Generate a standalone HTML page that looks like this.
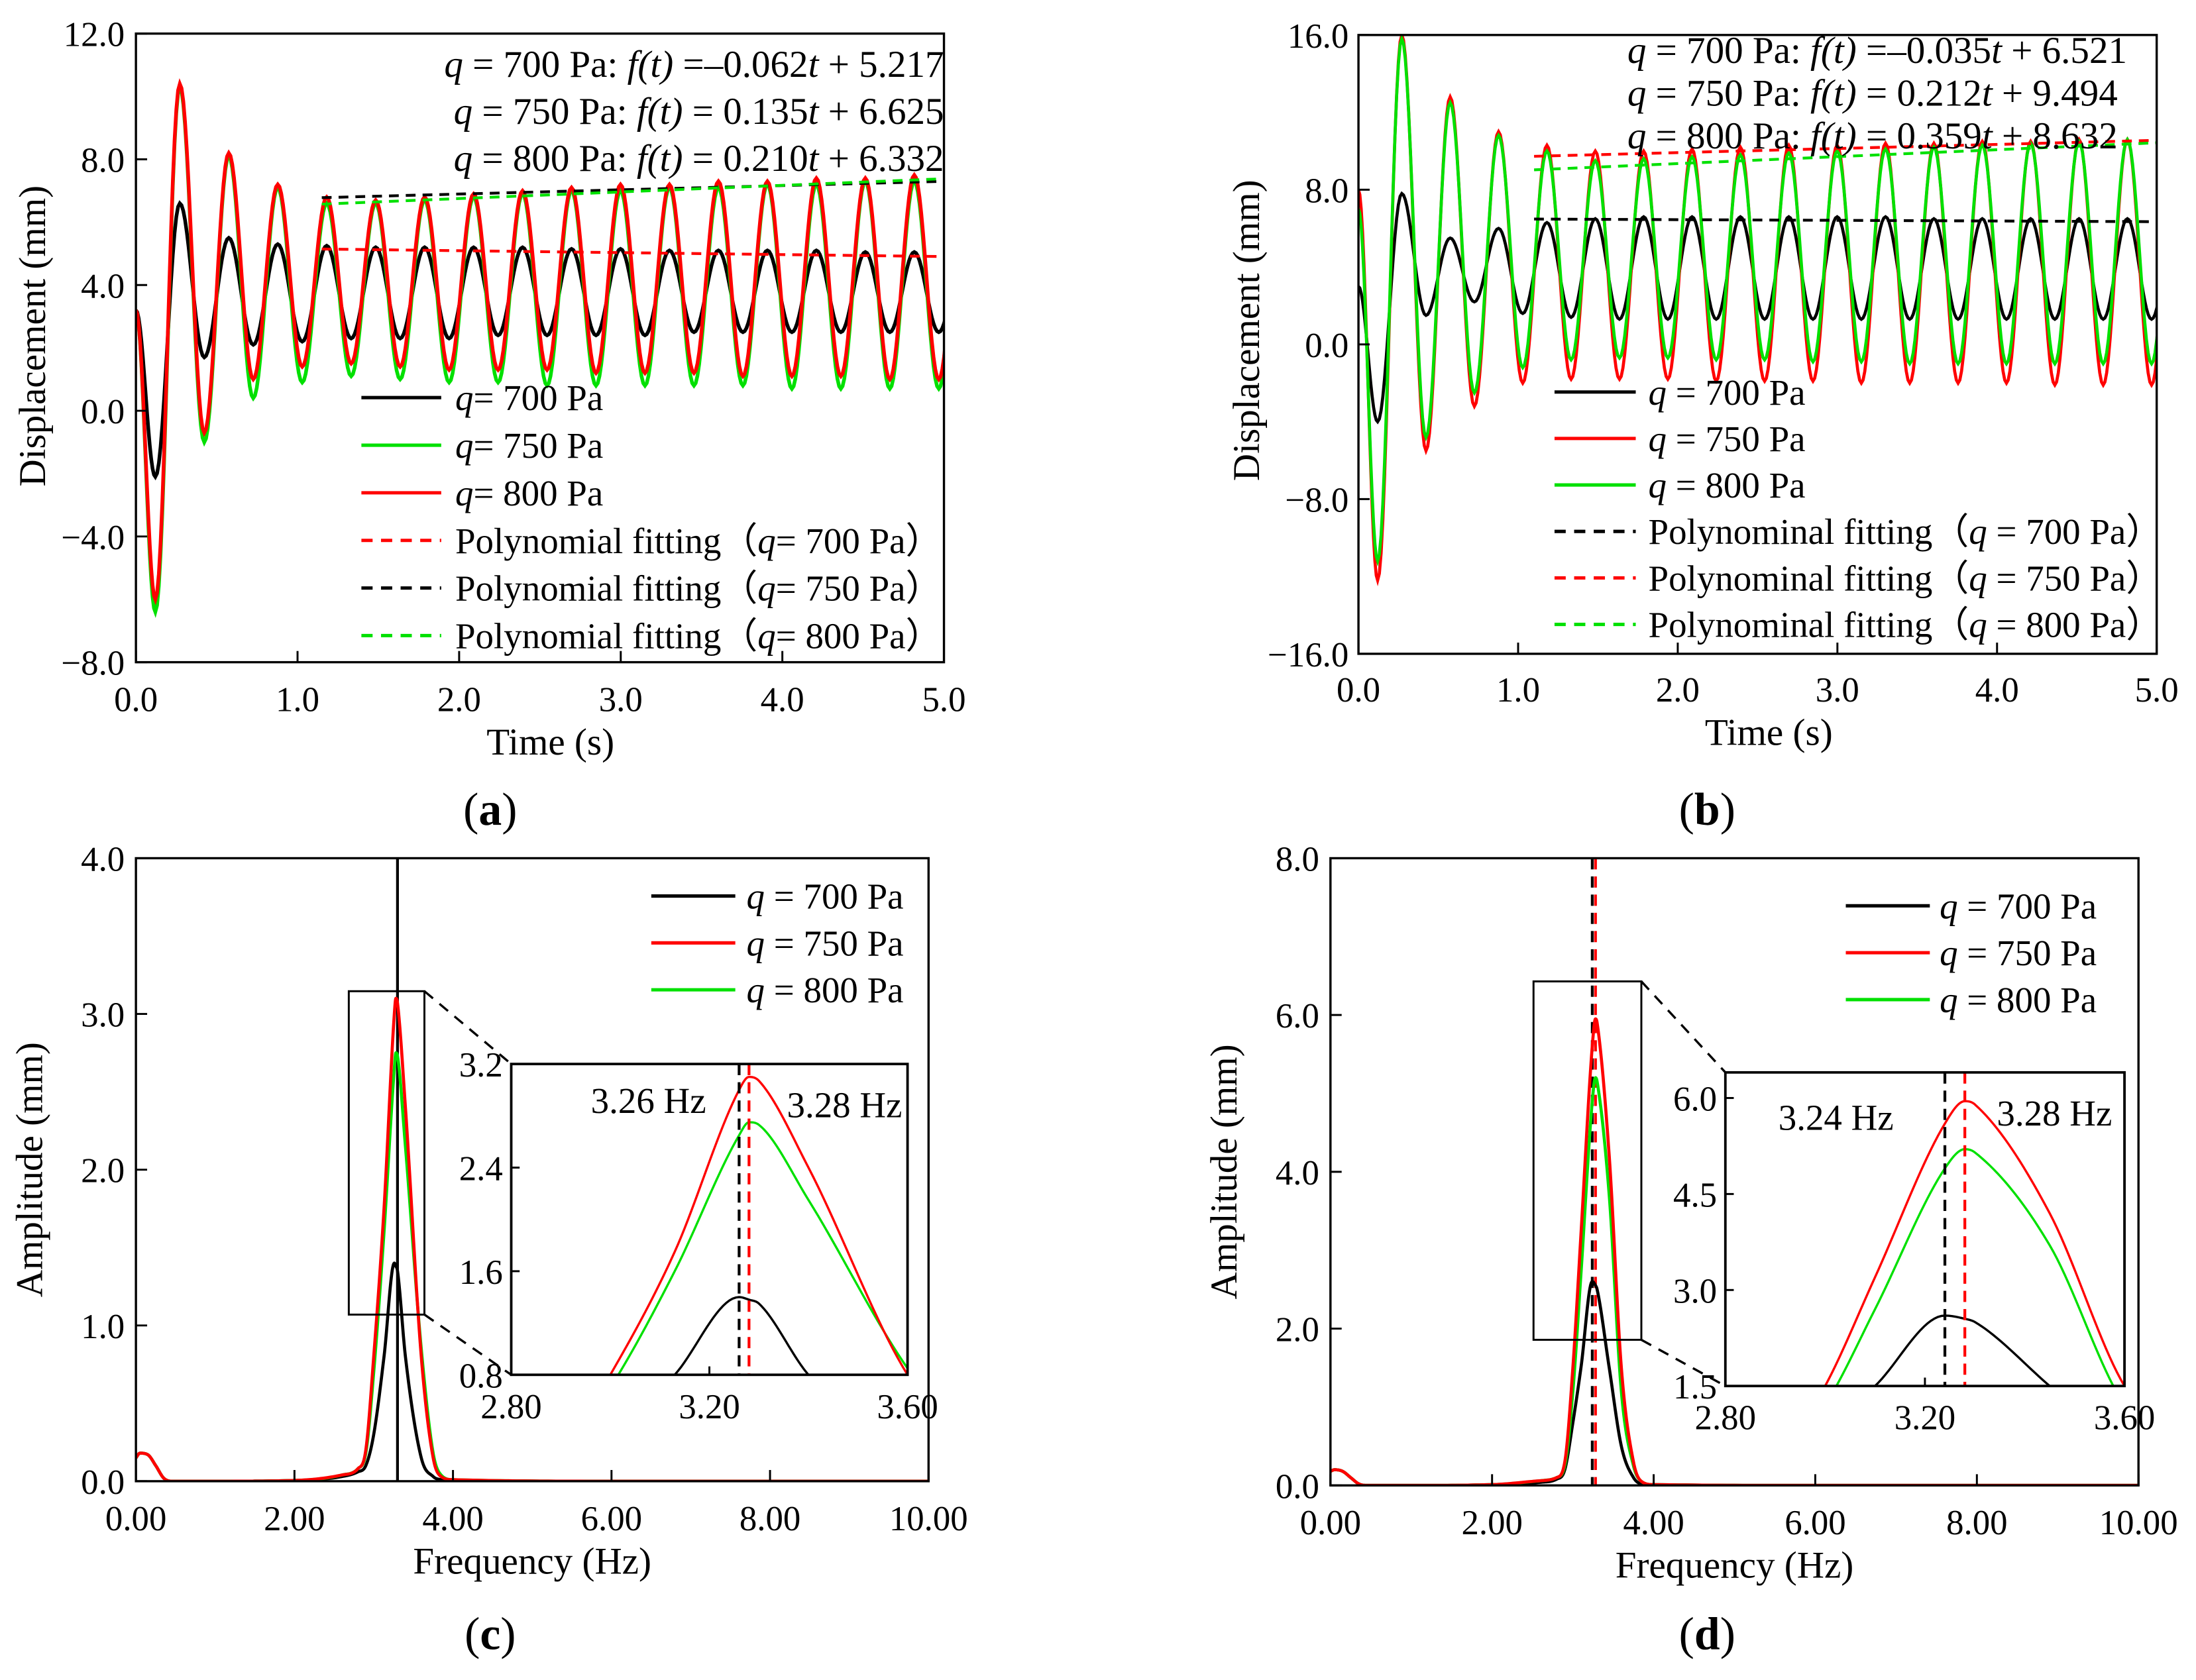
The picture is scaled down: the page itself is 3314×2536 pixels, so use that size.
<!DOCTYPE html>
<html><head><meta charset="utf-8">
<style>
html,body{margin:0;padding:0;background:#fff;}
svg{display:block;font-family:"Liberation Serif",serif;}
</style></head>
<body>
<svg id="fig" width="3314" height="2536" viewBox="0 0 1568 1200" xmlns="http://www.w3.org/2000/svg">
<rect x="0" y="0" width="1568" height="1200" fill="#fff"/>
</svg>
<script>
// ---------- data ----------
const timeHalfPeriod = 0.1515;
const timeFirstExtremum = 0.12;
// panel (a)
const aStart = [3.2, 3.2, 3.2];
const aBlackMins = [-2.1,1.7,2.1,2.2,2.3,2.3,2.3,2.4,2.4,2.4,2.4,2.5,2.5,2.5,2.5,2.5,2.5];
const aBlackMaxs = [6.6,5.5,5.3,5.25,5.2,5.2,5.2,5.2,5.15,5.15,5.1,5.1,5.1,5.1,5.05,5.05,5.05];
const aGreenMins = [-6.4,-1.0,0.4,0.9,1.1,1.0,0.9,0.9,0.8,0.8,0.8,0.8,0.8,0.7,0.7,0.7,0.7];
const aGreenMaxs = [10.3,8.1,7.1,6.6,6.6,6.7,6.8,6.9,7.0,7.0,7.1,7.1,7.2,7.2,7.3,7.3,7.3];
const aRedMins = [-6.0,-0.7,1.0,1.4,1.5,1.4,1.3,1.3,1.3,1.2,1.2,1.2,1.1,1.1,1.1,1.0,1.0];
const aRedMaxs = [10.4,8.2,7.2,6.8,6.7,6.8,6.9,7.0,7.1,7.2,7.2,7.3,7.3,7.4,7.4,7.5,7.5];
const aFitSlopes = [-0.062, 0.135, 0.210];
const aFitIntercepts = [5.217, 6.625, 6.332];
// panel (b)
const bStart = [3.0, 8.0, 7.0];
const bBlackMins = [-4.0,1.5,2.2,1.6,1.4,1.3,1.3,1.3,1.3,1.3,1.3,1.3,1.3,1.3,1.3,1.3,1.3];
const bBlackMaxs = [7.8,5.5,6.0,6.3,6.5,6.6,6.6,6.6,6.6,6.6,6.6,6.5,6.5,6.5,6.5,6.5,6.5];
const bRedMins = [-12.2,-5.5,-3.2,-2.0,-1.8,-1.8,-1.8,-1.9,-1.9,-1.9,-2.0,-2.0,-2.0,-2.0,-2.1,-2.1,-2.1];
const bRedMaxs = [16.0,12.8,11.0,10.3,10.0,10.0,10.1,10.2,10.3,10.3,10.4,10.4,10.5,10.5,10.6,10.6,10.6];
const bGreenMins = [-11.2,-4.8,-2.5,-1.2,-0.8,-0.7,-0.7,-0.8,-0.8,-0.9,-0.9,-1.0,-1.0,-1.0,-1.0,-1.0,-1.0];
const bGreenMaxs = [15.8,12.5,10.8,10.0,9.5,9.6,9.7,9.8,9.9,10.0,10.1,10.2,10.3,10.4,10.5,10.6,10.6];
const bFitSlopes = [-0.035, 0.212, 0.359];
const bFitIntercepts = [6.521, 9.494, 8.632];
// panel (c)
const cFreq = [0,0.05,0.15,0.25,0.35,0.45,1.0,2.0,2.6,2.8,2.9,3.0,3.13,3.26,3.28,3.30,3.40,3.60,3.75,3.85,4.0,6.0,10.0];
const cRed = [0.15,0.18,0.17,0.1,0.02,0,0,0.005,0.04,0.08,0.2,0.8,1.75,3.0,3.1,3.07,2.4,0.8,0.15,0.03,0.01,0,0];
const cGreen = [0.15,0.18,0.17,0.1,0.02,0,0,0.005,0.04,0.08,0.18,0.7,1.6,2.65,2.75,2.73,2.15,0.85,0.18,0.04,0.01,0,0];
const cBlack = [0.15,0.18,0.17,0.1,0.02,0,0,0.005,0.03,0.06,0.1,0.3,0.8,1.4,1.38,1.35,0.8,0.15,0.03,0.01,0.005,0,0];
const cPeaks = [3.26, 3.28];
// panel (d)
const dFreq = [0,0.05,0.15,0.25,0.35,0.45,1.0,2.0,2.6,2.8,2.9,3.0,3.1,3.24,3.28,3.30,3.45,3.60,3.75,3.85,4.0,6.0,10.0];
const dRed = [0.18,0.2,0.18,0.1,0.02,0,0,0.01,0.06,0.1,0.3,1.5,3.2,5.6,5.95,5.9,4.2,1.5,0.3,0.05,0.01,0,0];
const dGreen = [0.18,0.2,0.18,0.1,0.02,0,0,0.01,0.06,0.1,0.25,1.2,2.7,4.9,5.2,5.15,3.7,1.2,0.25,0.05,0.01,0,0];
const dBlack = [0.18,0.2,0.18,0.1,0.02,0,0,0.01,0.04,0.08,0.2,0.8,1.5,2.6,2.55,2.5,1.5,0.5,0.1,0.02,0.01,0,0];
const dPeaks = [3.24, 3.28];

// ---------- helpers ----------
const NS = 'http://www.w3.org/2000/svg';
const svg = document.getElementById('fig');
const FS_TICK = 25, FS_LEG = 26, FS_EQ = 27, FS_TITLE = 27;
function el(tag, attrs, parent, text){
  const e = document.createElementNS(NS, tag);
  for (const k in attrs) e.setAttribute(k, attrs[k]);
  if (text !== undefined) e.textContent = text;
  (parent || svg).appendChild(e);
  return e;
}
function lin(d0,d1,r0,r1){ return v => r0 + (v-d0)/(d1-d0)*(r1-r0); }
let clipId = 0;
function clipRect(x,y,w,h){
  clipId++;
  const cp = el('clipPath',{id:'cp'+clipId});
  el('rect',{x:x,y:y,width:w,height:h},cp);
  return 'url(#cp'+clipId+')';
}
function axesFrame(g, x0,y0,x1,y1){
  const r = el('rect',{x:x0,y:y0,width:x1-x0,height:y1-y0,fill:'none',stroke:'#000','stroke-width':1.6},g);
  
  
}
function oscPath(sx, sy, start, mins, maxs, tEnd){
  const ext = [];
  for (let i=0;i<mins.length;i++){ ext.push(mins[i]); ext.push(maxs[i]); }
  const pts = [[0,start]];
  let tPrev = 0, vPrev = start;
  for (let k=0;k<ext.length;k++){
    const t = timeFirstExtremum + k*timeHalfPeriod;
    const v = ext[k];
    const n = 14;
    for (let j=1;j<=n;j++){
      const f = j/n;
      const tt = tPrev + (t-tPrev)*f;
      const vv = vPrev + (v-vPrev)*(1-Math.cos(Math.PI*f))/2;
      pts.push([tt,vv]);
    }
    tPrev = t; vPrev = v;
    if (t > tEnd) break;
  }
  return pts.map((p,i)=>(i?'L':'M')+sx(p[0]).toFixed(2)+','+sy(p[1]).toFixed(2)).join('');
}
// monotone cubic (Fritsch-Carlson) through the data points
function specPath(sx, sy, xs, ys){
  const n = xs.length, d = [], m = [];
  for (let i=0;i<n-1;i++) d.push((ys[i+1]-ys[i])/(xs[i+1]-xs[i]));
  m.push(d[0]);
  for (let i=1;i<n-1;i++) m.push(d[i-1]*d[i]<=0 ? 0 : (d[i-1]+d[i])/2);
  m.push(d[n-2]);
  for (let i=0;i<n-1;i++){
    if (d[i]===0){ m[i]=0; m[i+1]=0; continue; }
    const a=m[i]/d[i], b=m[i+1]/d[i], s=a*a+b*b;
    if (s>9){ const t=3/Math.sqrt(s); m[i]=t*a*d[i]; m[i+1]=t*b*d[i]; }
  }
  let p = '';
  for (let i=0;i<n-1;i++){
    const h = xs[i+1]-xs[i], N = 20;
    for (let j=0;j<=N;j++){
      if (i>0 && j===0) continue;
      const t=j/N, t2=t*t, t3=t2*t;
      const y = (2*t3-3*t2+1)*ys[i] + (t3-2*t2+t)*h*m[i] + (-2*t3+3*t2)*ys[i+1] + (t3-t2)*h*m[i+1];
      p += (p?'L':'M')+sx(xs[i]+h*t).toFixed(2)+','+sy(y).toFixed(2);
    }
  }
  return p;
}
function ticksX(g, sx, vals, labels, y, yLab, len, fs){
  vals.forEach((v,i)=>{
    const t = el('line',{x1:sx(v),x2:sx(v),y1:y,y2:y-len,stroke:'#000','stroke-width':1.4},g);
    
    
    const tx = el('text',{x:sx(v),y:yLab,'font-size':fs,'text-anchor':'middle'},g,labels[i]);
    
    
  });
}
function ticksY(g, sy, vals, labels, x, xLab, len, fs){
  vals.forEach((v,i)=>{
    const t = el('line',{x1:x,x2:x+len,y1:sy(v),y2:sy(v),stroke:'#000','stroke-width':1.4},g);
    
    
    const tx = el('text',{x:xLab,y:sy(v)+9,'font-size':fs,'text-anchor':'end'},g,labels[i]);
    
    
  });
}
function legendRow(g, x1, x2, tx, y, color, dashed, parts){
  const ln = el('line',{x1:x1,x2:x2,y1:y,y2:y,stroke:color,'stroke-width':2.4},g);
  if (dashed) ln.setAttribute('stroke-dasharray','8,6');
  
  
  const t = el('text',{x:tx,y:y+9,'font-size':FS_LEG},g);
  
  
  parts.forEach(p=>{ el('tspan',p[1]?{'font-style':'italic'}:{},t,p[0]); });
}
function axisTitle(g, x, y, txt, rot){
  return el('text',{x:x,y:y,'font-size':FS_TITLE,'text-anchor':'middle',transform:rot?('rotate(-90 '+x+' '+y+')'):''},g,txt);
}
function panelLabel(x,y,letter){
  const t = el('text',{x:x,y:y,'font-size':33,'text-anchor':'middle'});
  
  
  el('tspan',{},t,'(');
  el('tspan',{'font-weight':'bold'},t,letter);
  el('tspan',{},t,')');
}
function fitLabel(g, x, y, anchor, q, slope, icpt){
  const t = el('text',{x:x,y:y,'font-size':FS_EQ,'text-anchor':anchor},g);
  
  
  el('tspan',{'font-style':'italic'},t,'q');
  el('tspan',{},t,' = '+q+' Pa: ');
  el('tspan',{'font-style':'italic'},t,'f(t)');
  const s = slope<0 ? (' =\u2013'+Math.abs(slope).toFixed(3)) : (' =  '+slope.toFixed(3));
  el('tspan',{},t,s);
  el('tspan',{'font-style':'italic'},t,'t');
  el('tspan',{},t,' + '+icpt.toFixed(3));
}

// ---------- panel (a) ----------
(function(){
  const g = el('g',{});
  
  
  const X0=97,X1=674,Y0=24,Y1=473;
  const sx = lin(0,5,X0,X1), sy = lin(-8,12,Y1,Y0);
  const clip = clipRect(X0,Y0,X1-X0,Y1-Y0);
  const series = [[aBlackMins,aBlackMaxs,'#000',aStart[0],'series-700pa'],[aGreenMins,aGreenMaxs,'#00e000',aStart[1],'series-750pa'],[aRedMins,aRedMaxs,'#ff0000',aStart[2],'series-800pa']];
  series.forEach(s=>{
    const p = el('path',{d:oscPath(sx,sy,s[3],s[0],s[1],5),fill:'none',stroke:s[2],'stroke-width':2.6,'clip-path':clip},g);
    
    
  });
  const fitColors = ['#ff0000','#000','#00e000'];
  aFitSlopes.forEach((m,i)=>{
    const l = el('line',{x1:sx(1.15),x2:sx(5),y1:sy(m*1.15+aFitIntercepts[i]),y2:sy(m*5+aFitIntercepts[i]),stroke:fitColors[i],'stroke-width':2,'stroke-dasharray':'7,5'},g);
    
    
  });
  axesFrame(g,X0,Y0,X1,Y1);
  ticksX(g,sx,[0,1,2,3,4,5],['0.0','1.0','2.0','3.0','4.0','5.0'],Y1,508,8,FS_TICK);
  ticksY(g,sy,[-8,-4,0,4,8,12],['\u22128.0','\u22124.0','0.0','4.0','8.0','12.0'],X0,89,8,FS_TICK);
  const xt = axisTitle(g,393,539,'Time (s)');
   
  const yt = axisTitle(g,32,240,'Displacement (mm)',true);
   
  ['700','750','800'].forEach((q,i)=>fitLabel(g,674,55+i*33.5,'end',q,aFitSlopes[i],aFitIntercepts[i]));
  const L = [['#000',false,[['q',1],['= 700 Pa',0]]],['#00e000',false,[['q',1],['= 750 Pa',0]]],['#ff0000',false,[['q',1],['= 800 Pa',0]]],
    ['#ff0000',true,[['Polynomial fitting\uff08',0],['q',1],['= 700 Pa\uff09',0]]],['#000',true,[['Polynomial fitting\uff08',0],['q',1],['= 750 Pa\uff09',0]]],['#00e000',true,[['Polynomial fitting\uff08',0],['q',1],['= 800 Pa\uff09',0]]]];
  L.forEach((r,i)=>legendRow(g,258,315,325,284+i*34,r[0],r[1],r[2]));
})();

// ---------- panel (b) ----------
(function(){
  const g = el('g',{});
  
  
  const X0=970,X1=1540,Y0=25,Y1=467;
  const sx = lin(0,5,X0,X1), sy = lin(-16,16,Y1,Y0);
  const clip = clipRect(X0,Y0,X1-X0,Y1-Y0);
  const series = [[bBlackMins,bBlackMaxs,'#000',bStart[0],'series-700pa'],[bRedMins,bRedMaxs,'#ff0000',bStart[1],'series-750pa'],[bGreenMins,bGreenMaxs,'#00e000',bStart[2],'series-800pa']];
  series.forEach(s=>{
    const p = el('path',{d:oscPath(sx,sy,s[3],s[0],s[1],5),fill:'none',stroke:s[2],'stroke-width':2.2,'clip-path':clip},g);
    
    
  });
  const fitColors = ['#000','#ff0000','#00e000'];
  bFitSlopes.forEach((m,i)=>{
    const l = el('line',{x1:sx(1.1),x2:sx(5),y1:sy(m*1.1+bFitIntercepts[i]),y2:sy(m*5+bFitIntercepts[i]),stroke:fitColors[i],'stroke-width':2,'stroke-dasharray':'7,5'},g);
    
    
  });
  axesFrame(g,X0,Y0,X1,Y1);
  ticksX(g,sx,[0,1,2,3,4,5],['0.0','1.0','2.0','3.0','4.0','5.0'],Y1,501,8,FS_TICK);
  ticksY(g,sy,[-16,-8,0,8,16],['\u221216.0','\u22128.0','0.0','8.0','16.0'],X0,963,8,FS_TICK);
  const xt = axisTitle(g,1263,532,'Time (s)');
   
  const yt = axisTitle(g,899,236,'Displacement (mm)',true);
   
  ['700','750','800'].forEach((q,i)=>fitLabel(g,1162,45+i*30.5,'start',q,bFitSlopes[i],bFitIntercepts[i]));
  const L = [['#000',false,[['q',1],[' = 700 Pa',0]]],['#ff0000',false,[['q',1],[' = 750 Pa',0]]],['#00e000',false,[['q',1],[' = 800 Pa',0]]],
    ['#000',true,[['Polynominal fitting\uff08',0],['q',1],[' = 700 Pa\uff09',0]]],['#ff0000',true,[['Polynominal fitting\uff08',0],['q',1],[' = 750 Pa\uff09',0]]],['#00e000',true,[['Polynominal fitting\uff08',0],['q',1],[' = 800 Pa\uff09',0]]]];
  L.forEach((r,i)=>legendRow(g,1110,1168,1177,280+i*33.2,r[0],r[1],r[2]));
})();

// ---------- spectrum panel builder ----------
function spectrumPanel(name, P){
  const g = el('g',{});
  
  
  const sx = lin(0,10,P.X0,P.X1), sy = lin(0,P.ymax,P.Y1,P.Y0);
  const clip = clipRect(P.X0,P.Y0,P.X1-P.X0,P.Y1-P.Y0);
  P.mainLines.forEach(m=>{
    const l = el('line',{x1:sx(m[0]),x2:sx(m[0]),y1:P.Y0,y2:P.Y1,stroke:m[1],'stroke-width':2},g);
    if (m[2]) l.setAttribute('stroke-dasharray','8,5');
    
    
  });
  P.series.forEach(s=>{
    const p = el('path',{d:specPath(sx,sy,P.freq,s[0]),fill:'none',stroke:s[1],'stroke-width':2.2,'clip-path':clip},g);
    
    
  });
  axesFrame(g,P.X0,P.Y0,P.X1,P.Y1);
  ticksX(g,sx,[0,2,4,6,8,10],['0.00','2.00','4.00','6.00','8.00','10.00'],P.Y1,P.Y1+35,8,FS_TICK);
  ticksY(g,sy,P.yt,P.ytl,P.X0,P.X0-8,8,FS_TICK);
  const xt = axisTitle(g,(P.X0+P.X1)/2,P.Y1+66,'Frequency (Hz)');
   
  const yt = axisTitle(g,P.X0-67,(P.Y0+P.Y1)/2,'Amplitude (mm)',true);
   
  const zr = el('rect',{x:P.zr[0],y:P.zr[1],width:P.zr[2]-P.zr[0],height:P.zr[3]-P.zr[1],fill:'none',stroke:'#000','stroke-width':1.4},g);
   
  const I = P.inset;
  [[P.zr[2],P.zr[1],I.X0,I.Y0],[P.zr[2],P.zr[3],I.X0,I.Y1]].forEach(c=>{
    const l = el('line',{x1:c[0],y1:c[1],x2:c[2],y2:c[3],stroke:'#000','stroke-width':1.6,'stroke-dasharray':'8,6'},g);
     
  });
  const ig = el('g',{},g);
   
  el('rect',{x:I.X0,y:I.Y0,width:I.X1-I.X0,height:I.Y1-I.Y0,fill:'#fff'},ig);
  const ix = lin(2.8,3.6,I.X0,I.X1), iy = lin(I.ymin,I.ymax,I.Y1,I.Y0);
  const iclip = clipRect(I.X0,I.Y0,I.X1-I.X0,I.Y1-I.Y0);
  P.series.forEach(s=>{
    const p = el('path',{d:specPath(ix,iy,P.freq,s[0]),fill:'none',stroke:s[1],'stroke-width':1.6,'clip-path':iclip},ig);
    
    
  });
  P.peaks.forEach((f,i)=>{
    const l = el('line',{x1:ix(f),x2:ix(f),y1:I.Y0,y2:I.Y1,stroke:i?'#ff0000':'#000','stroke-width':2,'stroke-dasharray':'8,5'},ig);
     
  });
  const fr = el('rect',{x:I.X0,y:I.Y0,width:I.X1-I.X0,height:I.Y1-I.Y0,fill:'none',stroke:'#000','stroke-width':1.8},ig);
   
  ticksX(ig,ix,[2.8,3.2,3.6],['2.80','3.20','3.60'],I.Y1,I.Y1+31,6,FS_TICK);
  ticksY(ig,iy,I.yt,I.ytl,I.X0,I.X0-6,6,FS_TICK);
  I.labels.forEach(lb=>{
    const t = el('text',{x:lb[0],y:lb[1],'font-size':FS_LEG,'text-anchor':'middle'},ig,lb[2]);
     
  });
  P.legend.forEach((r,i)=>legendRow(g,P.lg[0],P.lg[1],P.lg[2],P.lg[3]+i*33.5,r[0],false,[['q',1],[' = '+r[1]+' Pa',0]]));
}

spectrumPanel('panel-c-spectrum-chart',{
  X0:97,X1:663,Y0:613,Y1:1058,ymax:4,freq:cFreq,
  series:[[cBlack,'#000','series-700pa'],[cGreen,'#00e000','series-800pa'],[cRed,'#ff0000','series-750pa']],
  yt:[0,1,2,3,4],ytl:['0.0','1.0','2.0','3.0','4.0'],
  mainLines:[[3.3,'#000',false]],
  zr:[249,708,303,939],
  peaks:cPeaks,
  inset:{X0:365,X1:648,Y0:760,Y1:982,ymin:0.8,ymax:3.2,yt:[0.8,1.6,2.4,3.2],ytl:['0.8','1.6','2.4','3.2'],
    labels:[[463,795,'3.26 Hz'],[603,798,'3.28 Hz']]},
  legend:[['#000','700'],['#ff0000','750'],['#00e000','800']],
  lg:[465,525,533,640]
});
spectrumPanel('panel-d-spectrum-chart',{
  X0:950,X1:1527,Y0:613,Y1:1061,ymax:8,freq:dFreq,
  series:[[dBlack,'#000','series-700pa'],[dGreen,'#00e000','series-800pa'],[dRed,'#ff0000','series-750pa']],
  yt:[0,2,4,6,8],ytl:['0.0','2.0','4.0','6.0','8.0'],
  mainLines:[[dPeaks[0],'#000',true],[dPeaks[1],'#ff0000',true]],
  zr:[1095,701,1172,957],
  peaks:dPeaks,
  inset:{X0:1232,X1:1517,Y0:766,Y1:990,ymin:1.5,ymax:6.4,yt:[1.5,3.0,4.5,6.0],ytl:['1.5','3.0','4.5','6.0'],
    labels:[[1311,807,'3.24 Hz'],[1467,804,'3.28 Hz']]},
  legend:[['#000','700'],['#ff0000','750'],['#00e000','800']],
  lg:[1318,1378,1385,647]
});

panelLabel(350,589,'a');
panelLabel(1219,589,'b');
panelLabel(350,1178,'c');
panelLabel(1219,1178,'d');
</script>
</body></html>
